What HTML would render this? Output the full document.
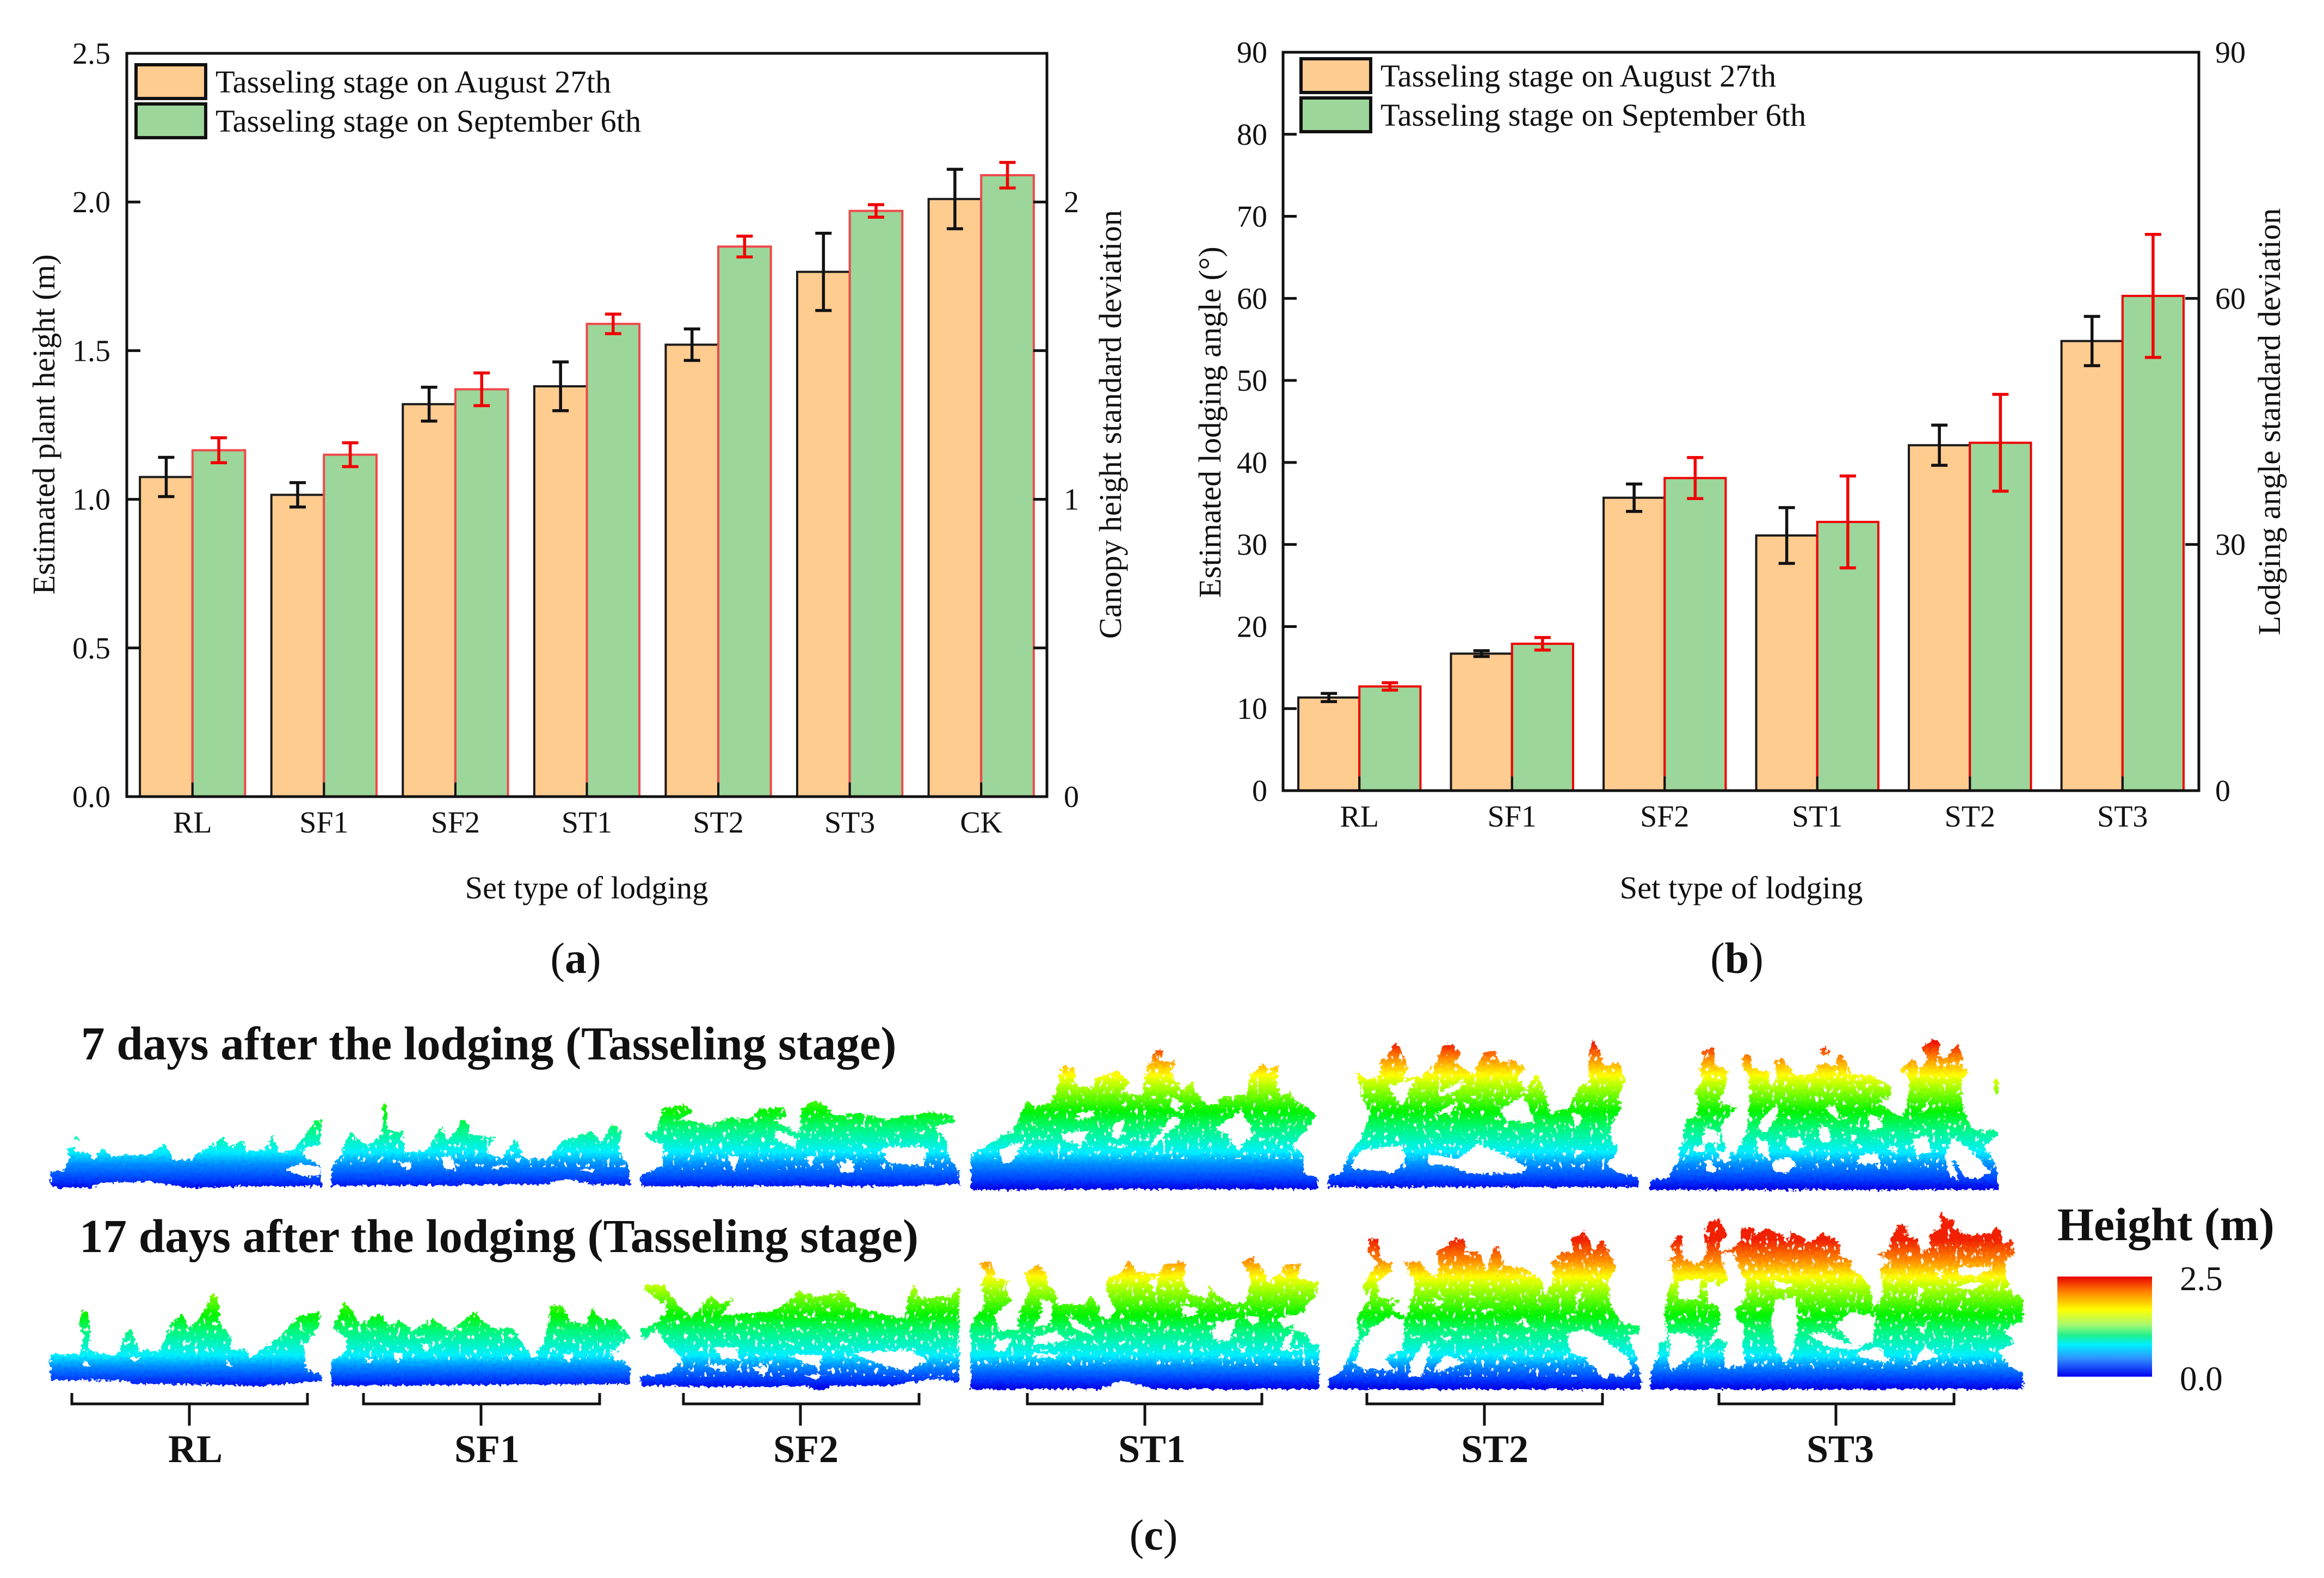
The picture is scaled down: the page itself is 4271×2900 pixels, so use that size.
<!DOCTYPE html>
<html lang="en">
<head>
<meta charset="utf-8">
<title>Estimated plant height and lodging angle by lodging type</title>
<style>
html,body{margin:0;padding:0;background:#fff;width:4271px;height:2900px;overflow:hidden}
svg{display:block;font-family:"Liberation Serif",serif}
text{fill:#111}
</style>
</head>
<body>
<svg id="figure" xmlns="http://www.w3.org/2000/svg" width="4271" height="2900" viewBox="0 0 4271 2900">
<defs>
<filter id="rough" filterUnits="userSpaceOnUse" x="0" y="1850" width="4271" height="800" color-interpolation-filters="sRGB">
<feTurbulence type="fractalNoise" baseFrequency="0.16" numOctaves="2" seed="4" result="n"/>
<feDisplacementMap in="SourceGraphic" in2="n" scale="12" xChannelSelector="R" yChannelSelector="G"/>
</filter>
<filter id="speckle" color-interpolation-filters="sRGB">
<feTurbulence type="fractalNoise" baseFrequency="0.14 0.08" numOctaves="2" seed="11"/>
<feColorMatrix values="0 0 0 0 1  0 0 0 0 1  0 0 0 0 1  16 0 0 0 -10.6"/>
<feComposite in2="SourceAlpha" operator="in"/>
</filter>
<linearGradient id="jetA">
<stop offset="0" stop-color="#0000e6"/><stop offset=".07" stop-color="#0040ff"/><stop offset=".17" stop-color="#0090ff"/><stop offset=".25" stop-color="#00f0ff"/><stop offset=".41" stop-color="#00f878"/><stop offset=".52" stop-color="#00f400"/><stop offset=".68" stop-color="#a8ff00"/><stop offset=".76" stop-color="#ffff00"/><stop offset=".87" stop-color="#ff9000"/><stop offset=".98" stop-color="#f01000"/>
</linearGradient>
<linearGradient id="jetB">
<stop offset="0" stop-color="#0000e6"/><stop offset=".07" stop-color="#0040ff"/><stop offset=".15" stop-color="#0090ff"/><stop offset=".22" stop-color="#00f0ff"/><stop offset=".38" stop-color="#00f878"/><stop offset=".48" stop-color="#00f400"/><stop offset=".65" stop-color="#a8ff00"/><stop offset=".73" stop-color="#ffff00"/><stop offset=".83" stop-color="#ff9000"/><stop offset=".97" stop-color="#f02000"/>
</linearGradient>
<linearGradient id="j1" href="#jetA" gradientUnits="userSpaceOnUse" x1="0" y1="498" x2="0" y2="-330"/>
<linearGradient id="j2" href="#jetA" gradientUnits="userSpaceOnUse" x1="0" y1="858" x2="0" y2="30"/>
<linearGradient id="j4" href="#jetB" gradientUnits="userSpaceOnUse" x1="0" y1="759" x2="0" y2="-90"/>
<linearGradient id="j5" href="#jetB" gradientUnits="userSpaceOnUse" x1="0" y1="879" x2="0" y2="30"/>
<linearGradient id="j6" href="#jetB" gradientUnits="userSpaceOnUse" x1="0" y1="999" x2="0" y2="150"/>
<linearGradient id="cbar" x1="0" y1="1" x2="0" y2="0">
<stop offset="0" stop-color="#0000f0"/><stop offset=".18" stop-color="#3090ff"/><stop offset=".32" stop-color="#00f0ff"/><stop offset=".41" stop-color="#20f090"/><stop offset=".52" stop-color="#a8f870"/><stop offset=".67" stop-color="#ffff00"/><stop offset=".85" stop-color="#ff8000"/><stop offset="1" stop-color="#e80000"/>
</linearGradient>
</defs>

<g id="panelA"></g>
<g id="panelB"></g>

<text transform="translate(100,780) rotate(-90)" text-anchor="middle" font-size="58.5">Estimated plant height (m)</text>
<text transform="translate(2060,780) rotate(-90)" text-anchor="middle" font-size="58.5">Canopy height standard deviation</text>
<text x="1078" y="1651" text-anchor="middle" font-size="58.5">Set type of lodging</text>
<text x="1058" y="1788" text-anchor="middle" font-size="80">(<tspan font-weight="bold">a</tspan>)</text>

<text transform="translate(2243,776) rotate(-90)" text-anchor="middle" font-size="58.5">Estimated lodging angle (°)</text>
<text transform="translate(4190,775) rotate(-90)" text-anchor="middle" font-size="58.5">Lodging angle standard deviation</text>
<text x="3200" y="1651" text-anchor="middle" font-size="58.5">Set type of lodging</text>
<text x="3192" y="1788" text-anchor="middle" font-size="80">(<tspan font-weight="bold">b</tspan>)</text>

<g filter="url(#rough)">
<g transform="translate(80,2020) scale(1.0842,.33333)">
<g fill="url(#j1)">
<polygon points="12,480 12,400 35,390 45,320 38,270 50,265 55,290 78,300 85,340 100,265 115,320 130,310 180,305 205,250 215,290 220,340 250,330 280,260 305,210 315,260 340,225 345,290 375,280 388,195 400,300 425,280 440,210 462,115 470,120 470,250 445,270 440,310 470,370 472,480 350,480 250,490 180,455 100,460 80,490 30,490"/>
<polygon points="52,205 60,205 60,225 52,225"/>
<polygon points="488,480 488,380 505,300 520,180 550,260 565,220 575,180 575,30 582,30 582,170 610,180 612,290 650,280 665,190 675,150 685,230 700,170 710,110 722,140 720,190 765,210 750,290 775,330 800,220 815,330 855,330 880,230 930,175 945,240 965,135 980,180 975,280 992,380 995,470 930,470 890,440 850,470 488,480"/>
<polygon points="1012,480 1012,420 1050,370 1050,250 1030,230 1018,190 1040,170 1050,50 1085,30 1100,70 1075,120 1095,115 1130,145 1145,120 1160,100 1195,110 1215,55 1255,45 1260,90 1240,120 1280,190 1285,50 1310,5 1330,50 1340,90 1385,80 1430,110 1500,70 1540,90 1545,130 1510,150 1530,230 1535,320 1552,400 1552,470 1440,480"/>
</g>
<g fill="#fff">
<polygon points="415,375 440,355 470,375 468,425 440,425 412,395"/>
<polygon points="600,345 625,350 620,395 605,360"/>
<polygon points="675,320 690,310 700,390 680,385"/>
<polygon points="760,375 780,355 790,375 765,385"/>
<polygon points="910,390 935,380 930,405"/>
<polygon points="1420,265 1500,265 1490,370 1430,350"/>
<polygon points="1160,310 1180,320 1170,400"/>
<polygon points="1290,320 1310,310 1300,370"/>
<polygon points="1350,350 1370,340 1375,400 1350,400"/>
<polygon points="1240,170 1275,210 1275,270 1240,220"/>
</g>
</g>
<g transform="translate(1780,1900) scale(.797,.33333)">
<g fill="url(#j2)">
<polygon points="5,860 5,660 40,620 70,570 105,520 125,420 135,360 150,400 190,380 205,290 215,175 245,190 245,280 285,300 290,240 345,205 370,265 355,320 400,340 410,200 430,90 450,90 440,150 475,150 470,240 495,310 515,255 525,320 550,390 570,390 585,345 640,335 650,230 680,160 690,200 715,170 710,270 720,350 740,310 750,370 775,390 800,450 775,540 745,620 770,660 775,770 805,790 805,855"/>
<polygon points="830,845 830,780 860,770 880,650 905,580 925,450 905,330 895,210 920,250 950,230 950,150 970,110 985,50 1000,100 1015,190 1000,240 1040,240 1075,170 1095,60 1115,60 1135,100 1125,160 1160,220 1190,100 1215,100 1225,160 1255,145 1285,190 1265,240 1285,310 1310,225 1325,300 1340,430 1380,420 1410,290 1430,260 1430,100 1440,30 1455,100 1465,180 1500,155 1515,260 1500,340 1505,420 1480,500 1480,570 1500,650 1470,720 1500,770 1545,790 1545,845"/>
</g>
<g fill="#fff">
<polygon points="70,640 130,590 100,710 80,715"/>
<polygon points="215,550 280,530 260,610 215,590"/>
<polygon points="420,610 470,450 490,480 440,590 420,640"/>
<polygon points="570,520 630,420 655,560 620,640 600,560"/>
<polygon points="250,440 290,420 290,460 255,465"/>
<polygon points="470,350 495,390 480,425 465,400"/>
<polygon points="335,500 360,470 350,580 330,570"/>
<polygon points="970,290 1030,250 1000,400 980,340"/>
<polygon points="1075,440 1130,370 1110,445"/>
<polygon points="1085,330 1140,250 1130,310 1090,350"/>
<polygon points="905,640 1000,620 1010,680 980,770 920,750 880,740"/>
<polygon points="1060,660 1130,690 1170,610 1215,640 1290,740 1270,770 1150,770 1120,730 1060,720"/>
<polygon points="1225,420 1280,340 1305,490 1240,480"/>
<polygon points="1390,430 1420,460 1400,520"/>
<polygon points="1400,640 1420,650 1395,680"/>
</g>
</g>
<g transform="translate(3020,1900) scale(.4464,.33333)">
<g fill="url(#j2)">
<polygon points="28,860 28,805 110,795 115,755 150,690 145,640 175,580 160,570 180,470 220,460 225,350 215,330 240,250 230,200 250,130 235,100 290,75 300,180 325,185 350,210 340,250 340,300 310,370 390,410 350,450 320,510 330,580 340,650 380,660 420,560 430,480 440,350 430,220 405,190 410,120 440,110 450,190 520,210 525,300 550,240 540,140 570,135 610,200 620,230 700,220 720,170 745,165 800,180 795,130 815,110 850,190 855,225 930,225 1020,290 1020,340 970,380 1060,460 1080,420 1100,280 1080,210 1055,210 1110,130 1135,190 1170,140 1145,70 1195,30 1225,50 1215,120 1250,140 1260,100 1295,60 1315,130 1310,180 1340,210 1310,250 1310,370 1340,480 1360,530 1455,530 1455,570 1400,620 1440,680 1455,740 1460,780 1460,860"/>
<polygon points="720,100 750,70 775,95 745,130"/>
<polygon points="1445,255 1460,255 1460,330 1445,330"/>
</g>
<g fill="#fff">
<polygon points="250,520 300,530 320,600 240,600"/>
<polygon points="205,630 260,600 250,650 210,650"/>
<polygon points="300,640 345,650 365,700 330,710"/>
<polygon points="255,700 285,700 300,760 260,760"/>
<polygon points="470,590 510,590 525,700 470,650"/>
<polygon points="490,470 550,385 555,440 510,540 470,530"/>
<polygon points="590,570 640,570 670,620 620,650 590,610"/>
<polygon points="535,700 600,680 630,720 590,770 535,750"/>
<polygon points="720,520 760,510 775,590 730,600"/>
<polygon points="745,410 790,395 810,480 780,450"/>
<polygon points="930,440 975,470 985,510 930,540"/>
<polygon points="850,550 880,560 860,600"/>
<polygon points="1000,630 1050,620 1045,660"/>
<polygon points="890,670 970,660 975,710 880,720"/>
<polygon points="1110,580 1170,560 1190,650 1125,670"/>
<polygon points="1140,440 1185,350 1170,420"/>
<polygon points="1240,680 1270,570 1310,600 1390,700 1430,770 1370,800 1320,790 1290,700 1270,700 1300,810 1260,780"/>
</g>
</g>
<g transform="translate(80,2300) scale(1.0842,.33333)">
<g fill="url(#j4)">
<polygon points="12,710 12,565 60,565 70,470 60,400 65,330 75,330 80,470 75,540 100,565 125,570 140,440 150,430 160,540 195,550 205,480 215,400 235,345 245,420 265,370 285,230 295,250 300,400 320,480 315,540 345,540 350,590 400,470 435,350 470,335 465,420 440,530 445,650 472,680 472,715 370,740 240,730 150,730 135,710"/>
<polygon points="488,740 488,600 510,560 515,480 490,420 510,280 525,330 535,400 570,340 585,410 605,380 625,440 660,370 690,440 730,330 750,400 770,430 795,420 810,500 830,590 850,490 860,300 880,300 895,390 920,400 930,310 945,370 970,380 995,470 970,530 985,610 995,640 995,730 490,740"/>
<polygon points="1012,740 1012,690 1060,670 1085,590 1060,530 1040,430 1015,490 1012,430 1040,390 1060,320 1020,210 1020,185 1050,185 1080,310 1100,360 1130,240 1150,290 1170,250 1150,350 1200,340 1230,330 1260,290 1280,220 1310,250 1355,220 1380,310 1460,370 1465,260 1475,180 1485,260 1540,240 1552,200 1552,720 1510,700 1440,740 1340,740 1315,765 1290,740 1240,745 1100,745"/>
</g>
<g fill="#fff">
<polygon points="145,580 165,585 155,610"/>
<polygon points="70,600 80,635 68,630"/>
<polygon points="310,590 320,635 312,630"/>
<polygon points="590,560 610,560 600,610"/>
<polygon points="545,580 560,600 550,620"/>
<polygon points="640,510 655,510 650,560"/>
<polygon points="880,570 900,560 890,610"/>
<polygon points="960,540 990,570 970,610"/>
<polygon points="1135,530 1175,530 1180,600 1150,590"/>
<polygon points="1270,570 1320,570 1315,640 1290,620"/>
<polygon points="1370,560 1460,540 1500,600 1460,660 1400,600"/>
<polygon points="1290,680 1320,680 1310,710"/>
<polygon points="1120,630 1160,620 1150,660"/>
<polygon points="1200,640 1230,630 1220,690"/>
</g>
</g>
<g transform="translate(1780,2260) scale(.797,.33333)">
<g fill="url(#j5)">
<polygon points="5,880 5,550 15,480 40,400 30,300 40,240 25,190 50,170 60,230 55,260 95,280 85,330 100,390 60,470 70,560 115,550 115,470 140,340 130,240 160,190 175,230 185,310 205,360 200,410 265,410 280,370 305,420 300,470 320,500 340,440 315,330 320,270 350,240 370,165 385,230 440,240 450,190 500,175 495,280 510,350 555,380 555,300 570,360 610,410 640,400 650,300 645,230 630,180 655,150 685,240 690,290 720,240 730,190 765,185 760,270 805,290 800,370 775,420 780,480 740,550 780,570 790,630 808,630 808,880 430,880 370,840 345,835 300,880 165,880"/>
<polygon points="830,880 830,820 860,780 880,680 900,590 895,480 925,380 905,320 930,230 945,190 920,120 925,50 945,50 950,170 975,180 975,230 945,280 945,370 995,390 975,440 1010,480 1030,300 1015,240 1005,175 1040,175 1070,260 1085,230 1080,110 1105,90 1120,40 1145,60 1145,120 1175,120 1195,220 1210,110 1222,85 1235,200 1280,210 1320,270 1330,360 1350,290 1345,180 1370,120 1395,130 1390,50 1420,5 1430,50 1440,120 1460,50 1480,140 1495,200 1475,290 1480,420 1510,520 1550,530 1545,570 1520,580 1540,700 1550,820 1550,880"/>
</g>
<g fill="#fff">
<polygon points="60,610 100,600 85,670 65,670"/>
<polygon points="150,590 200,560 230,610 150,640"/>
<polygon points="225,470 275,540 290,590 240,540"/>
<polygon points="165,380 195,400 190,520 150,540 170,450"/>
<polygon points="490,420 530,430 520,480 495,470"/>
<polygon points="570,510 620,490 600,620 560,600"/>
<polygon points="710,490 780,450 780,500 730,540"/>
<polygon points="730,590 750,560 740,650 780,660 720,670"/>
<polygon points="620,640 640,650 630,680"/>
<polygon points="640,480 670,480 670,510 650,520"/>
<polygon points="150,680 210,690 200,705 150,700"/>
<polygon points="415,280 440,250 430,350"/>
<polygon points="900,630 930,540 975,470 1005,500 1000,660 960,710 985,775 915,770 885,730 900,700"/>
<polygon points="1020,730 1050,620 1065,660 1045,810 1015,810"/>
<polygon points="1070,370 1095,400 1080,430"/>
<polygon points="1075,760 1100,690 1145,730 1090,780"/>
<polygon points="1275,470 1295,530 1280,540"/>
<polygon points="1380,570 1420,550 1450,580 1520,700 1530,760 1510,820 1480,790 1470,830 1420,700 1390,680"/>
<polygon points="1400,350 1415,340 1400,460"/>
<polygon points="1180,440 1200,440 1190,470"/>
<polygon points="1090,590 1115,590 1100,620"/>
</g>
</g>
<g transform="translate(3020,2220) scale(.459,.33333)">
<g fill="url(#j6)">
<polygon points="28,1000 30,905 50,850 65,740 95,740 100,830 95,680 85,600 100,450 120,400 110,290 90,290 130,260 110,215 130,160 155,160 155,270 205,310 240,280 255,240 245,130 270,70 310,70 335,150 310,190 300,240 360,220 390,180 390,110 440,110 450,150 490,110 560,150 570,200 590,130 640,160 650,190 690,170 720,130 760,170 790,200 785,260 835,290 830,340 870,370 910,440 920,560 925,550 960,480 950,330 990,290 935,255 990,230 985,180 1025,90 1055,100 1060,160 1100,170 1110,250 1150,220 1145,150 1190,100 1190,20 1210,50 1245,65 1240,110 1310,150 1390,140 1410,105 1430,120 1440,200 1475,170 1490,250 1450,290 1450,380 1480,470 1520,490 1520,620 1440,680 1490,740 1420,790 1470,880 1520,905 1520,1000"/>
</g>
<g fill="#fff">
<polygon points="310,250 360,250 410,400 410,500 365,560 375,620 400,640 400,780 410,860 330,880 320,790 340,740 300,720 250,770 290,690 310,610 300,540 260,520 255,400 300,430 340,400"/>
<polygon points="140,400 230,390 220,510 135,500"/>
<polygon points="100,690 165,690 220,720 200,800 130,880 110,900 100,840 110,760"/>
<polygon points="510,620 530,510 610,490 620,640 600,780 570,860 530,780"/>
<polygon points="520,400 600,420 570,450 530,440"/>
<polygon points="660,700 750,770 850,780 920,730 930,600 830,570 770,650 810,700 840,760 770,720 720,680"/>
<polygon points="860,790 940,770 990,850 870,830"/>
<polygon points="1070,870 1130,760 1180,820 1100,850"/>
<polygon points="1090,650 1120,660 1130,700"/>
<polygon points="1250,440 1310,410 1370,410 1320,450"/>
<polygon points="1160,350 1200,340 1190,380"/>
<polygon points="1265,320 1400,330 1340,370 1260,370"/>
<polygon points="1100,450 1120,440 1100,530"/>
</g>
</g>
</g>

<g fill="#fff" filter="url(#speckle)">
<rect x="92" y="1900" width="501" height="215"/>
<rect x="608" y="1900" width="551" height="245"/>
<rect x="1177" y="1900" width="585" height="250"/>
<rect x="1785" y="1900" width="637" height="230"/>
<rect x="2443" y="1900" width="569" height="250"/>
<rect x="3033" y="1900" width="639" height="250"/>
<rect x="92" y="2220" width="501" height="270"/>
<rect x="608" y="2220" width="551" height="280"/>
<rect x="1177" y="2220" width="585" height="310"/>
<rect x="1785" y="2220" width="637" height="290"/>
<rect x="2443" y="2220" width="569" height="310"/>
<rect x="3033" y="2220" width="685" height="295"/>
</g>

<text x="149" y="1947" font-size="87" font-weight="bold">7 days after the lodging (Tasseling stage)</text>
<text x="146" y="2301" font-size="87" font-weight="bold">17 days after the lodging (Tasseling stage)</text>

<g fill="none" stroke="#111" stroke-width="5">
<path d="M132 2560V2580H565V2560M348 2580V2620"/>
<path d="M668 2560V2580H1102V2560M884 2580V2620"/>
<path d="M1256 2560V2580H1689V2560M1471 2580V2620"/>
<path d="M1888 2560V2580H2319V2560M2104 2580V2620"/>
<path d="M2512 2560V2580H2945V2560M2728 2580V2620"/>
<path d="M3159 2560V2580H3591V2560M3374 2580V2620"/>
</g>
<g font-size="72" font-weight="bold" text-anchor="middle">
<text x="359" y="2687">RL</text>
<text x="895" y="2687">SF1</text>
<text x="1481" y="2687">SF2</text>
<text x="2117" y="2687">ST1</text>
<text x="2747" y="2687">ST2</text>
<text x="3382" y="2687">ST3</text>
</g>
<text x="2120" y="2848" text-anchor="middle" font-size="80">(<tspan font-weight="bold">c</tspan>)</text>

<text x="3781" y="2279" font-size="86" font-weight="bold">Height (m)</text>
<rect x="3781" y="2346" width="174" height="184" fill="url(#cbar)"/>
<text x="4006" y="2371" font-size="63">2.5</text>
<text x="4006" y="2555" font-size="63">0.0</text>
</svg>

<script>
var NS = 'http://www.w3.org/2000/svg';

var panelACategories = ['RL', 'SF1', 'SF2', 'ST1', 'ST2', 'ST3', 'CK'];
var panelAAugust = [1.075, 1.015, 1.32, 1.38, 1.52, 1.765, 2.01];
var panelASeptember = [1.165, 1.15, 1.37, 1.59, 1.85, 1.97, 2.09];
var panelAAugustErr = [0.066, 0.041, 0.057, 0.082, 0.053, 0.13, 0.1];
var panelASeptemberErr = [0.042, 0.04, 0.055, 0.033, 0.035, 0.021, 0.043];
var panelALeftTicks = [0, 0.5, 1, 1.5, 2, 2.5];
var panelALeftLabels = ['0.0', '0.5', '1.0', '1.5', '2.0', '2.5'];
var panelARightTicks = [0, 0.5, 1, 1.5, 2, 2.5];
var panelARightLabels = ['0', '', '1', '', '2', ''];

var panelBCategories = ['RL', 'SF1', 'SF2', 'ST1', 'ST2', 'ST3'];
var panelBAugust = [11.35, 16.7, 35.7, 31.1, 42.1, 54.8];
var panelBSeptember = [12.7, 17.9, 38.1, 32.75, 42.4, 60.3];
var panelBAugustErr = [0.5, 0.35, 1.67, 3.4, 2.45, 3.0];
var panelBSeptemberErr = [0.45, 0.76, 2.5, 5.6, 5.9, 7.5];
var panelBLeftTicks = [0, 10, 20, 30, 40, 50, 60, 70, 80, 90];
var panelBLeftLabels = ['0', '10', '20', '30', '40', '50', '60', '70', '80', '90'];
var panelBRightTicks = [0, 30, 60, 90];
var panelBRightLabels = ['0', '30', '60', '90'];

var legendEntries = ['Tasseling stage on August 27th', 'Tasseling stage on September 6th'];

function make(parent, tag, attrs) {
  var el = document.createElementNS(NS, tag);
  for (var k in attrs) { el.setAttribute(k, attrs[k]); }
  parent.appendChild(el);
  return el;
}
function linearScale(d0, d1, r0, r1) {
  return function (v) { return r0 + (v - d0) / (d1 - d0) * (r1 - r0); };
}
function bandScale(n, r0, r1) {
  var step = (r1 - r0) / n;
  return function (i) { return r0 + (i + 0.5) * step; };
}

function drawPanel(p) {
  var g = document.getElementById(p.id);
  var x = bandScale(p.categories.length, p.left, p.right);
  var y = linearScale(p.domainMin, p.domainMax, p.bottom, p.top);
  var step = (p.right - p.left) / p.categories.length;
  var barW = step * 0.4;

  p.categories.forEach(function (cat, i) {
    var cx = x(i);
    var a = make(g, 'rect', { x: cx - barW, y: y(p.august[i]), width: barW, height: p.bottom - y(p.august[i]), fill: '#FFCC90', stroke: '#1a1a1a', 'stroke-width': 4 });
    
    
    var b = make(g, 'rect', { x: cx, y: y(p.september[i]), width: barW, height: p.bottom - y(p.september[i]), fill: '#9CD69A', stroke: p.greenStroke, 'stroke-width': 4 });
    
    
    [[cx - barW / 2, p.august[i], p.augustErr[i], '#111', 'august'], [cx + barW / 2, p.september[i], p.septemberErr[i], '#f00000', 'september']].forEach(function (e) {
      var t = y(e[1] + e[2]), m = y(e[1] - e[2]), c = 15;
      var eb = make(g, 'path', { d: 'M' + (e[0] - c) + ' ' + t + 'H' + (e[0] + c) + 'M' + e[0] + ' ' + t + 'V' + m + 'M' + (e[0] - c) + ' ' + m + 'H' + (e[0] + c), fill: 'none', stroke: e[3], 'stroke-width': 5.5 });
      
      
    });
    var tick = make(g, 'line', { x1: cx, x2: cx, y1: p.bottom, y2: p.bottom - 26, stroke: '#111', 'stroke-width': 4 });
    
    
    var lab = make(g, 'text', { x: cx, y: p.labelBaseline, 'text-anchor': 'middle', 'font-size': 56 });
    lab.textContent = cat;
    
    
  });

  var frame = make(g, 'rect', { x: p.left, y: p.top, width: p.right - p.left, height: p.bottom - p.top, fill: 'none', stroke: '#111', 'stroke-width': 5 });
  
  

  p.leftTicks.forEach(function (v, i) {
    var tk = make(g, 'line', { x1: p.left, x2: p.left + 25, y1: y(v), y2: y(v), stroke: '#111', 'stroke-width': 5 });
    
    
    var lb = make(g, 'text', { x: p.leftLabelX, y: y(v) + 19, 'text-anchor': 'end', 'font-size': 56 });
    lb.textContent = p.leftLabels[i];
    
    
  });
  p.rightTicks.forEach(function (v, i) {
    var tk = make(g, 'line', { x1: p.right, x2: p.right - 25, y1: y(v), y2: y(v), stroke: '#111', 'stroke-width': 5 });
    
    
    if (p.rightLabels[i]) {
      var lb = make(g, 'text', { x: p.rightLabelX, y: y(v) + 19, 'font-size': 56 });
      lb.textContent = p.rightLabels[i];
      
      
    }
  });

  legendEntries.forEach(function (txt, i) {
    var sw = make(g, 'rect', { x: p.legendX, y: p.legendY + i * p.legendGap, width: 128, height: 62, fill: i === 0 ? '#FFCC90' : '#9CD69A', stroke: '#111', 'stroke-width': 6 });
    
    
    var tx = make(g, 'text', { x: p.legendX + 146, y: p.legendY + i * p.legendGap + 51, 'font-size': 58.5 });
    tx.textContent = txt;
    
    
  });
}

drawPanel({
  id: 'panelA', categories: panelACategories, august: panelAAugust, september: panelASeptember,
  augustErr: panelAAugustErr, septemberErr: panelASeptemberErr,
  leftTicks: panelALeftTicks, leftLabels: panelALeftLabels, rightTicks: panelARightTicks, rightLabels: panelARightLabels,
  left: 233, right: 1924, top: 98, bottom: 1464, domainMin: 0, domainMax: 2.5,
  leftLabelX: 203, rightLabelX: 1955, labelBaseline: 1530, legendX: 250, legendY: 119, legendGap: 72, greenStroke: '#f0484a'
});
drawPanel({
  id: 'panelB', categories: panelBCategories, august: panelBAugust, september: panelBSeptember,
  augustErr: panelBAugustErr, septemberErr: panelBSeptemberErr,
  leftTicks: panelBLeftTicks, leftLabels: panelBLeftLabels, rightTicks: panelBRightTicks, rightLabels: panelBRightLabels,
  left: 2358, right: 4041, top: 96, bottom: 1453, domainMin: 0, domainMax: 90,
  leftLabelX: 2329, rightLabelX: 4071, labelBaseline: 1519, legendX: 2391, legendY: 108, legendGap: 72, greenStroke: '#f00000'
});
</script>
</body>
</html>
